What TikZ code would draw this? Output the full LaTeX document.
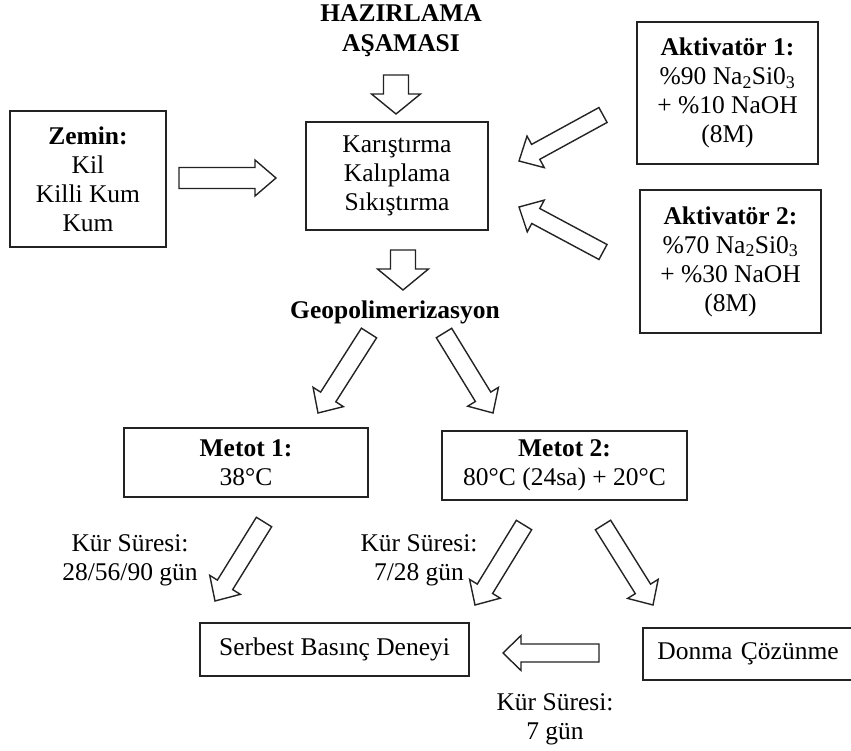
\documentclass[tikz,border=0pt]{standalone}
\usepackage{fontspec}
\setmainfont{Liberation Serif}
\usetikzlibrary{calc, positioning}
\definecolor{trait}{RGB}{35,35,35}

\newcommand{\yazi}{\fontsize{25.5}{29}\selectfont}

% fleche creuse : queue, pointe, corps, tete, longueur tete
\newcommand{\fleche}[5]{%
  \path let \p1=($(#2)-(#1)$) in \pgfextra{%
    \pgfmathsetmacro\flang{atan2(\y1,\x1)}%
    \pgfmathsetmacro\fllen{veclen(\x1,\y1)}%
    \global\let\flang\flang \global\let\fllen\fllen};
  \begin{scope}[shift={(#1)}, rotate=\flang]
    \draw[bloc] (0,-#3/2) -- ({\fllen-#5},-#3/2) -- ({\fllen-#5},-#4/2) -- (\fllen,0)
      -- ({\fllen-#5},#4/2) -- ({\fllen-#5},#3/2) -- (0,#3/2) -- cycle;
  \end{scope}}

\begin{document}
\begin{tikzpicture}[x=1pt, y=-1pt,
        kutu/.style={rectangle, draw=trait, line width=1.6pt, align=center, inner sep=0pt, font=\yazi},
        bloc/.style={draw=trait, line width=1.4pt, fill=white, line join=miter},
        etiket/.style={align=center, font=\yazi},
    ]
    \useasboundingbox (0,0) rectangle (851,751);

    % Titre
    \node[etiket, font=\fontsize{25.5}{30}\selectfont\bfseries] (titre) at (401,31)
        {HAZIRLAMA\\AŞAMASI};

    % Boites du haut
    \node[kutu, minimum width=182pt, minimum height=108pt] (karisim) at (397,176)
        {Karıştırma\\Kalıplama\\Sıkıştırma};
    \node[kutu, minimum width=156pt, minimum height=136pt] (zemin) at (88,179)
        {\textbf{Zemin:}\\Kil\\Killi Kum\\Kum};
    \node[kutu, minimum width=181pt, minimum height=142pt] (akt1) at (727.5,93)
        {\textbf{Aktivatör 1:}\\\%90 Na\textsubscript{2}Si0\textsubscript{3}\\+ \%10 NaOH\\(8M)};
    \node[kutu, minimum width=181pt, minimum height=143pt] (akt2) at (730.5,261.5)
        {\textbf{Aktivatör 2:}\\\%70 Na\textsubscript{2}Si0\textsubscript{3}\\+ \%30 NaOH\\(8M)};

    \node[etiket, font=\yazi\bfseries] (geo) at (395,312) {Geopolimerizasyon};

    % Metotlar
    \node[kutu, minimum width=244pt, minimum height=69pt] (metot1) at (246,462.5)
        {\textbf{Metot 1:}\\38°C};
    \node[kutu, minimum width=245pt, minimum height=69pt] (metot2) at (564.5,465.5)
        {\textbf{Metot 2:}\\80°C (24sa) + 20°C};

    % Deneyler
    \node[kutu, minimum width=269pt, minimum height=53pt] (serbest) at (334.5,649.5)
        {Serbest Basınç Deneyi};
    \node[kutu, minimum width=210pt, minimum height=52pt, text width=210pt] (donma) at (748,654)
        {Donma Çözünme};

    % Kur sureleri
    \node[etiket] (kur1) at (130,560) {Kür Süresi:\\28/56/90 gün};
    \node[etiket] (kur2) at (419,560) {Kür Süresi:\\7/28 gün};
    \node[etiket] (kur3) at (555,719) {Kür Süresi:\\7 gün};

    % Extremites des fleches
    \coordinate (t0) at (396,75);   \coordinate (p0) at (396,114);
    \coordinate (t1) at (179,178);  \coordinate (p1) at (276,178);
    \coordinate (t2) at (603,115);  \coordinate (p2) at (519,161);
    \coordinate (t3) at (603,252);  \coordinate (p3) at (519,207);
    \coordinate (t4) at (403,250);  \coordinate (p4) at (403,290);
    \coordinate (t5) at (369,333);  \coordinate (p5) at (318,413);
    \coordinate (t6) at (444,333);  \coordinate (p6) at (493,413);
    \coordinate (t7) at (264,522);  \coordinate (p7) at (215,601);
    \coordinate (t8) at (524,525);  \coordinate (p8) at (475,605);
    \coordinate (t9) at (603,525);  \coordinate (p9) at (653,605);
    \coordinate (t10) at (599,653); \coordinate (p10) at (503,653);

    % Fleches
    \fleche{t0}{p0}{25}{49}{20}
    \fleche{t1}{p1}{21}{36}{21}
    \fleche{t2}{p2}{17}{36}{19}
    \fleche{t3}{p3}{17}{36}{19}
    \fleche{t4}{p4}{25}{51}{21}
    \fleche{t5}{p5}{18}{36}{19}
    \fleche{t6}{p6}{18}{36}{19}
    \fleche{t7}{p7}{18}{36}{19}
    \fleche{t8}{p8}{18}{36}{19}
    \fleche{t9}{p9}{18}{36}{19}
    \fleche{t10}{p10}{18}{35}{18}
\end{tikzpicture}
\end{document}
